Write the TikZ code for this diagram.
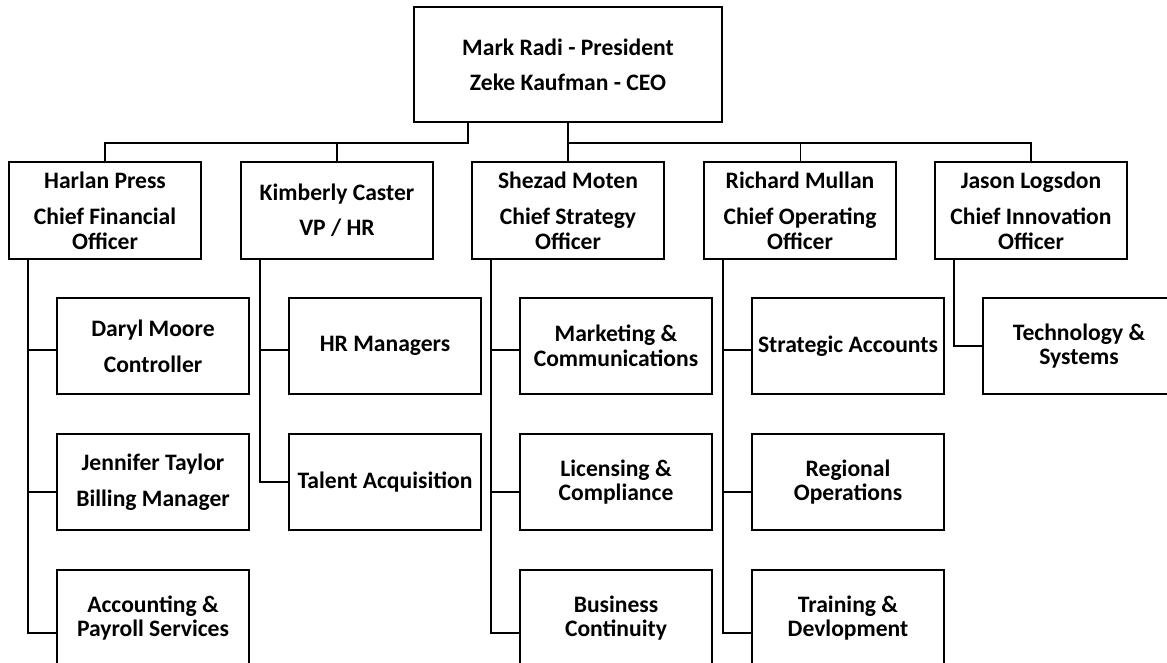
\documentclass[tikz,border=0pt]{standalone}
\usepackage{fontspec}
\setmainfont{Carlito}

\begin{document}
\begin{tikzpicture}[
    x=0.75pt, y=-0.75pt,
    font=\fontsize{17.7}{18.5}\selectfont\bfseries,
    block/.style={
        draw,
        line width=1.5pt,
        minimum width=144pt,
        minimum height=72pt,
        inner sep=2pt,
        align=center
    },
    link/.style={line width=1.5pt},
    stub/.style={line width=0.75pt}
]
\clip (0,0) rectangle (1167,663);

\node[block, minimum width=231pt, minimum height=86pt] (top) at (568,64.5) {
Mark Radi - President\\[8pt]
Zeke Kaufman - CEO
};

% officers
\node[block] (harlan) at (105,210.5) {
Harlan Press\\[8.5pt]
Chief Financial\\
Officer
};
\node[block] (kimberly) at (337,210.5) {
Kimberly Caster\\[8pt]
VP / HR
};
\node[block] (shezad) at (568,210.5) {
Shezad Moten\\[8.5pt]
Chief Strategy\\
Officer
};
\node[block] (richard) at (800,210.5) {
Richard Mullan\\[8.5pt]
Chief Operating\\
Officer
};
\node[block] (jason) at (1031,210.5) {
Jason Logsdon\\[8.5pt]
Chief Innovation\\
Officer
};

% departments
\node[block] (daryl) at (153,346) {
Daryl Moore\\[8.5pt]
Controller
};
\node[block] (jennifer) at (153,482) {
Jennifer Taylor\\[8.5pt]
Billing Manager
};
\node[block] (acct) at (153,618) {
Accounting \&\\
Payroll Services
};

\node[block] (hrmgr) at (385,346) {HR Managers};
\node[block] (talent) at (385,482) {Talent Acquisition};

\node[block] (mktg) at (616,346) {
Marketing \&\\
Communications
};
\node[block] (licens) at (616,482) {
Licensing \&\\
Compliance
};
\node[block] (bizcont) at (616,618) {
Business\\
Continuity
};

\node[block] (strat) at (848,346) {Strategic Accounts};
\node[block] (region) at (848,482) {
Regional\\
Operations
};
\node[block] (train) at (848,618) {
Training \&\\
Devlopment
};

\node[block] (tech) at (1079,346) {
Technology \&\\
Systems
};

% top level buses
\coordinate (busL) at (468,143);
\coordinate (busR) at (568,143);
\draw[link] (top.south -| busL) -- (busL) -| (harlan.north);
\draw[link] (busL) -| (kimberly.north);
\draw[link] (top.south) -- (shezad.north);
\draw[link] (busR) -| (jason.north);
\draw[stub] (busR -| richard.north) -- (richard.north);

% department links
\draw[link] ([xshift=15pt]harlan.south west) |- ([yshift=-3pt]daryl.west);
\draw[link] ([xshift=15pt]harlan.south west) |- ([yshift=-7.5pt]jennifer.west);
\draw[link] ([xshift=15pt]harlan.south west) |- ([yshift=-11.25pt]acct.west);

\draw[link] ([xshift=15pt]kimberly.south west) |- ([yshift=-3pt]hrmgr.west);
\draw[link] ([xshift=15pt]kimberly.south west) |- (talent.west);

\draw[link] ([xshift=15pt]shezad.south west) |- ([yshift=-3pt]mktg.west);
\draw[link] ([xshift=15pt]shezad.south west) |- ([yshift=-7.5pt]licens.west);
\draw[link] ([xshift=15pt]shezad.south west) |- ([yshift=-11.25pt]bizcont.west);

\draw[link] ([xshift=15pt]richard.south west) |- ([yshift=-3pt]strat.west);
\draw[link] ([xshift=15pt]richard.south west) |- ([yshift=-7.5pt]region.west);
\draw[link] ([xshift=15pt]richard.south west) |- ([yshift=-11.25pt]train.west);

\draw[link] ([xshift=15pt]jason.south west) |- (tech.west);

\end{tikzpicture}
\end{document}
